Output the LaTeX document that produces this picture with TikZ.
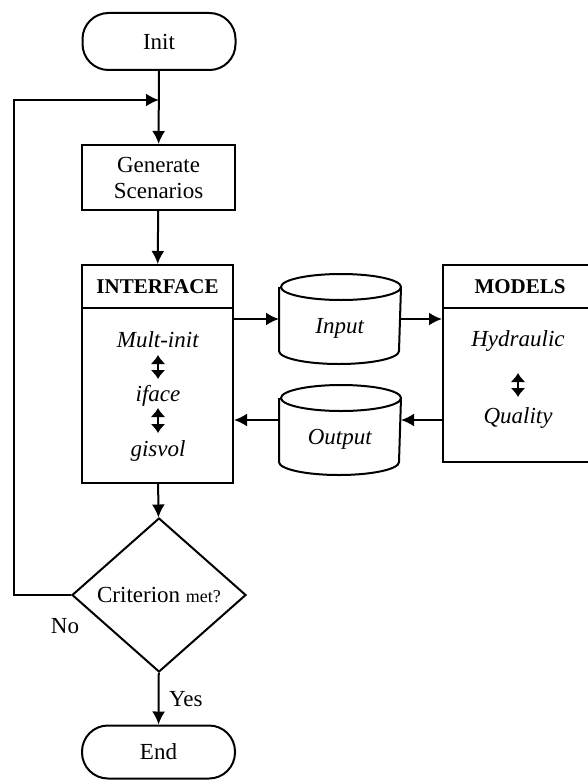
\documentclass[tikz,border=0pt]{standalone}
\usepackage{fontspec}
\setmainfont{Liberation Serif}
\usepackage{tikz}
\usetikzlibrary{shapes,arrows.meta,positioning}

\begin{document}
\begin{tikzpicture}[x=1pt, y=-1pt, line width=2pt,
    font=\fontsize{23}{26}\selectfont,
    term/.style={draw, rectangle, rounded corners=26pt, minimum width=153pt, minimum height=57pt, inner sep=0pt},
    procbox/.style={draw, rectangle, minimum width=#1, inner sep=0pt},
    store/.style={rectangle, minimum width=120pt, minimum height=88pt, inner sep=0pt, text height=34pt},
    test/.style={draw, diamond, minimum width=174pt, minimum height=154pt, inner sep=0pt},
    flow/.style={-{Latex[length=13pt,width=13pt]}},
    dbl/.style={{Latex[length=9pt,width=15pt]}-{Latex[length=9pt,width=15pt]}}]
    \useasboundingbox (0,0) rectangle (588,781);

    % Terminals and process boxes
    \node[term] (init) at (159,41.5) {Init};
    \node[procbox=153pt, minimum height=65pt, align=center] (gen) at (158.5,177.5) {Generate\\Scenarios};

    % Interface block
    \node[procbox=151pt, minimum height=43pt, font=\fontsize{21}{24}\selectfont\bfseries] (ifhead) at (157.5,286.5) {INTERFACE};
    \node[procbox=151pt, minimum height=175pt] (ifbody) at (157.5,395.5) {};
    \node[inner sep=2pt] (multi) at (158,340) {\textit{Mult-init}};
    \node[inner sep=2pt] (ifc) at (158,396) {\textit{iface}};
    \node[inner sep=2pt] (gisvol) at (158,451) {\textit{gisvol}};
    \draw[dbl] ([yshift=-15pt]multi.center) -- ([yshift=17pt]ifc.center);
    \draw[dbl] ([yshift=-12pt]ifc.center) -- ([yshift=18pt]gisvol.center);

    % Data stores
    \node[store] (input) at (340,319) {\textit{Input}};
    \node[store] (output) at (340,430) {\textit{Output}};
    \draw ([yshift=-13pt]input.north west) -- ([yshift=13pt]input.south west)
        arc[start angle=180, end angle=360, x radius=60pt, y radius=13pt]
        -- ([yshift=-13pt]input.north east)
        arc[start angle=0, end angle=360, x radius=60pt, y radius=13pt];
    \draw ([yshift=-13pt]output.north west) -- ([yshift=13pt]output.south west)
        arc[start angle=180, end angle=360, x radius=60pt, y radius=13pt]
        -- ([yshift=-13pt]output.north east)
        arc[start angle=0, end angle=360, x radius=60pt, y radius=13pt];

    % Models block
    \node[procbox=154pt, minimum height=43pt, font=\fontsize{21}{24}\selectfont\bfseries] (mhead) at (520,286.5) {MODELS};
    \node[procbox=154pt, minimum height=154pt] (mbody) at (520,385) {};
    \node[inner sep=2pt] (hydr) at (518,341) {\textit{Hydraulic}};
    \node[inner sep=2pt] (qual) at (518,418) {\textit{Quality}};
    \draw[dbl] ([yshift=-32pt]hydr.center) -- ([yshift=21pt]qual.center);

    % Decision and end
    \node[test] (crit) at (159,595) {\makebox[0pt]{Criterion {\fontsize{18}{20}\selectfont met?}}};
    \node[term, minimum height=53pt] (stop) at (158.5,752) {End};

    % Connectors
    \coordinate (join) at (159,100);
    \coordinate (loop) at (14,100);
    \draw[flow] (init) -- (gen);
    \draw[flow] (gen) -- (ifhead);
    \draw[flow] (ifbody.east |- input.west) -- (input.west);
    \draw[flow] (input.east) -- (mbody.west |- input.east);
    \draw[flow] ([yshift=10pt]mbody.west |- output.west) -- ([yshift=10pt]output.east);
    \draw[flow] ([yshift=10pt]output.west) -- ([yshift=10pt]ifbody.east |- output.west);
    \draw[flow] (ifbody) -- (crit);
    \draw[flow] (crit) -- node[right, xshift=6pt] (yes) {Yes} (stop);
    \draw[flow] (crit.west) -| (loop) -- (join);
    \node (no) at (65,626) {No};
\end{tikzpicture}
\end{document}
